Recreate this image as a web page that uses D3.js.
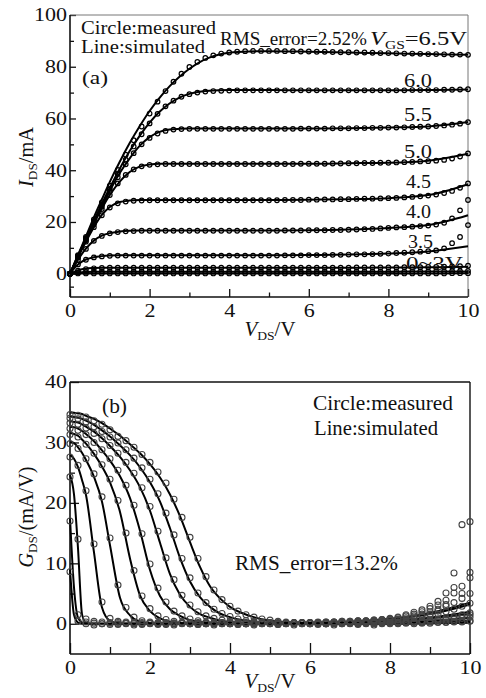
<!DOCTYPE html>
<html>
<head>
<meta charset="utf-8">
<script src="https://cdn.jsdelivr.net/npm/d3@7"></script>
<style>
html, body { margin: 0; padding: 0; background: #fff; }
svg { display: block; font-family: "Liberation Serif", "Times New Roman", serif; }
</style>
</head>
<body>
<svg id="chart" width="486" height="698"></svg>
<script>
// measured V_DS grid (V) and simulated V_DS grid (V)
const vds = [0,0.2,0.4,0.6,0.8,1,1.2,1.4,1.6,1.8,2,2.2,2.4,2.6,2.8,3,3.2,3.4,3.6,3.8,4,4.2,4.4,4.6,4.8,5,5.2,5.4,5.6,5.8,6,6.2,6.4,6.6,6.8,7,7.2,7.4,7.6,7.8,8,8.2,8.4,8.6,8.8,9,9.2,9.4,9.6,9.8,10];
const vdsSim = [0,0.1,0.2,0.3,0.4,0.6,0.8,1.0,1.25,1.5,1.75,2.0,2.25,2.5,2.75,3.0,3.25,3.5,3.75,4.0,4.5,5,6,7,8,9,10];

const xMajor = [0, 2, 4, 6, 8, 10];
const xMinor = [1, 3, 5, 7, 9];

// (a) I_DS (mA), measured
const idMeas65 = [0,7.2,14.2,21.0,27.6,34.0,40.1,46.0,51.6,56.9,61.9, 66.5,70.6,74.2,77.3,79.9,81.9,83.4,84.4,85.1,85.5, 85.8,86.0,86.1,86.1,86.1,86.1,86.0,86.0,85.9,85.9, 85.8,85.8,85.7,85.6,85.6,85.5,85.5,85.4,85.3,85.3, 85.2,85.1,85.1,85.0,84.9,84.9,84.8,84.7,84.7,84.6];
const idMeas60 = [0,6.9,13.7,20.3,26.7,32.8,38.6,44.1,49.2,53.9,58.1, 61.8,64.7,66.9,68.4,69.4,70.0,70.4,70.6,70.7,70.8, 70.9,70.9,70.9,70.9,70.9,70.9,70.9,70.9,70.9,70.9, 70.9,70.9,70.9,70.9,70.9,70.9,70.9,70.9,70.9,70.9, 70.9,70.9,71.0,71.0,71.0,71.0,71.1,71.1,71.2,71.3];
const idMeas55 = [0,6.7,13.3,19.7,25.9,31.8,37.3,42.3,46.6,50.0,52.5, 54.2,55.2,55.7,55.9,56.0,56.0,56.0,56.0,56.0,56.0, 56.0,56.0,56.0,56.0,56.0,56.0,56.0,56.0,56.1,56.1, 56.1,56.1,56.2,56.2,56.2,56.3,56.3,56.4,56.4,56.5, 56.5,56.6,56.7,56.8,56.9,57.1,57.3,57.6,58.0,58.6];
const idMeas50 = [0,6.5,12.9,19.1,25.0,30.4,34.9,38.2,40.3,41.5,42.1, 42.3,42.4,42.4,42.4,42.4,42.4,42.4,42.4,42.4,42.4, 42.4,42.4,42.4,42.4,42.4,42.4,42.4,42.4,42.5,42.5, 42.5,42.5,42.6,42.6,42.7,42.7,42.8,42.8,42.9,42.9, 43.0,43.1,43.2,43.4,43.5,43.7,44.0,44.5,45.3,46.5];
const idMeas45 = [0,6.3,12.4,18.0,22.6,25.6,27.2,27.9,28.2,28.3,28.4, 28.4,28.4,28.4,28.4,28.4,28.4,28.4,28.4,28.4,28.4, 28.4,28.4,28.4,28.4,28.4,28.4,28.5,28.5,28.5,28.6, 28.6,28.7,28.7,28.8,28.8,28.9,29.0,29.0,29.1,29.2, 29.3,29.5,29.7,29.9,30.2,30.6,31.2,32.0,33.2,34.9];
const idMeas40 = [0,5.3,9.6,12.7,14.6,15.6,16.1,16.4,16.5,16.6,16.6, 16.6,16.6,16.6,16.6,16.6,16.6,16.6,16.6,16.6,16.6, 16.6,16.6,16.6,16.6,16.6,16.6,16.7,16.7,16.7,16.8, 16.8,16.8,16.9,16.9,17.0,17.1,17.2,17.3,17.5,17.7, 17.9,18.0,18.2,18.4,18.6,19.0,19.7,21.4,24.5,28.5];
const idMeas35 = [0,3.6,5.4,6.3,6.7,6.9,7.0,7.0,7.0,7.0,7.0, 7.0,7.0,7.0,7.0,7.0,7.0,7.0,7.0,7.0,7.0, 7.0,7.0,7.0,7.0,7.0,7.0,7.1,7.1,7.1,7.2, 7.2,7.2,7.3,7.3,7.4,7.5,7.5,7.6,7.7,7.8, 8.0,8.1,8.3,8.5,8.7,9.0,9.8,11.8,14.2,18.8];
const idMeas30 = [0,1.2,1.8,2.1,2.2,2.3,2.3,2.3,2.3,2.3,2.3, 2.3,2.3,2.3,2.3,2.3,2.3,2.3,2.3,2.3,2.3, 2.3,2.3,2.3,2.3,2.3,2.3,2.3,2.3,2.3,2.3, 2.3,2.3,2.3,2.3,2.3,2.4,2.4,2.4,2.4,2.4, 2.4,2.5,2.5,2.5,2.6,2.6,2.7,2.8,2.9,3.1];
const idMeas25 = [0,0.5,0.7,0.8,0.8,0.8,0.8,0.8,0.8,0.8,0.8, 0.8,0.8,0.8,0.8,0.8,0.8,0.8,0.8,0.8,0.8, 0.8,0.8,0.8,0.8,0.8,0.8,0.8,0.8,0.8,0.8, 0.8,0.8,0.8,0.8,0.8,0.8,0.8,0.8,0.8,0.8, 0.8,0.8,0.8,0.9,0.9,0.9,0.9,1.0,1.0,1.1];
const idMeas20 = [0,0.1,0.1,0.1,0.1,0.1,0.1,0.1,0.1,0.1,0.1, 0.1,0.1,0.1,0.1,0.1,0.1,0.1,0.1,0.1,0.1, 0.1,0.1,0.1,0.1,0.1,0.1,0.1,0.1,0.1,0.1, 0.1,0.1,0.1,0.1,0.1,0.1,0.1,0.1,0.1,0.1, 0.1,0.1,0.1,0.1,0.1,0.1,0.1,0.2,0.2,0.2];

// (a) I_DS (mA), simulated
const idSim65 = [0,3.6,7.2,10.8,14.4,21.8,28.7,35.5,43.3,50.5,57.0,62.9,68.0,72.4,76.1,79.2,81.7,83.5,84.7,85.4,85.9,86.0,85.8,85.5,85.2,84.9,84.6];
const idSim60 = [0,3.5,7.0,10.4,13.8,20.5,27.0,33.2,40.6,47.4,53.3,58.4,62.6,65.8,68.1,69.5,70.3,70.7,70.9,71.0,71.0,71.0,70.9,70.9,70.9,71.0,71.2];
const idSim55 = [0,3.4,6.7,10.0,13.3,19.8,26.0,32.0,38.9,44.6,49.4,52.8,54.8,55.7,56.0,56.1,56.1,56.1,56.1,56.1,56.1,56.1,56.1,56.2,56.5,56.9,58.6];
const idSim50 = [0,3.3,6.5,9.8,13.0,19.3,25.2,30.4,35.6,39.3,41.4,42.2,42.5,42.5,42.5,42.5,42.5,42.5,42.5,42.5,42.5,42.5,42.5,42.7,42.9,43.7,46.4];
const idSim45 = [0,3.2,6.3,9.4,12.4,18.0,22.7,25.8,27.7,28.3,28.5,28.5,28.5,28.5,28.5,28.5,28.5,28.5,28.5,28.5,28.5,28.5,28.6,28.8,29.2,30.4,34.6];
const idSim40 = [0,2.8,5.4,7.7,9.7,12.8,14.7,15.7,16.3,16.6,16.7,16.7,16.7,16.7,16.7,16.7,16.7,16.7,16.7,16.7,16.7,16.7,16.8,17.1,17.7,18.8,22.6];
const idSim35 = [0,2.0,3.6,4.7,5.5,6.4,6.8,7.0,7.1,7.1,7.1,7.1,7.1,7.1,7.1,7.1,7.1,7.1,7.1,7.1,7.1,7.1,7.2,7.4,7.8,8.6,10.6];
const idSim30 = [0,0.7,1.3,1.7,2.0,2.2,2.3,2.3,2.3,2.3,2.3,2.3,2.3,2.3,2.3,2.3,2.3,2.3,2.3,2.3,2.3,2.3,2.3,2.3,2.4,2.5,2.7];
const idSim25 = [0,0.3,0.5,0.6,0.7,0.8,0.8,0.8,0.8,0.8,0.8,0.8,0.8,0.8,0.8,0.8,0.8,0.8,0.8,0.8,0.8,0.8,0.8,0.8,0.8,0.9,0.9];
const idSim20 = [0,0.05,0.1,0.1,0.1,0.1,0.1,0.1,0.1,0.1,0.1,0.1,0.1,0.1,0.1,0.1,0.1,0.1,0.1,0.1,0.1,0.1,0.1,0.1,0.1,0.1,0.2];

// (b) G_DS (mA/V), measured
const gdsMeas65 = [34.6,34.5,34.2,33.6,33.0,32.1,31.0,30.3,29.2,28.0,26.7, 25.1,23.3,20.6,17.6,14.3,10.8,7.8,5.6,4.0,2.9, 2.1,1.5,1.1,0.8,0.6,0.4,0.3,0.2,0.2,0.1, 0.1,0.0,0.1,0.0,0.1,0.0,0.1,0.0,0.1,0.1, 0.1,0.2,0.2,0.2,0.3,0.3,0.3,0.4,0.4,0.5];
const gdsMeas60 = [34.0,33.9,33.4,32.6,31.8,30.9,29.9,28.8,27.4,25.8,23.9, 21.5,18.3,14.7,10.8,7.6,5.1,3.5,2.4,1.7,1.2, 0.8,0.5,0.4,0.3,0.2,0.2,0.1,0.1,0.1,0.1, 0.0,0.1,0.0,0.1,0.1,0.0,0.1,0.1,0.1,0.2, 0.2,0.2,0.3,0.3,0.4,0.5,0.6,0.7,0.9,1.1];
const gdsMeas55 = [33.2,33.0,32.4,31.5,30.6,29.5,28.2,26.7,24.9,22.5,19.4, 15.3,10.9,7.3,4.7,3.1,2.0,1.3,0.9,0.6,0.4, 0.3,0.2,0.2,0.1,0.1,0.1,0.1,0.0,0.1,0.0, 0.1,0.0,0.1,0.1,0.0,0.1,0.1,0.2,0.2,0.2, 0.3,0.3,0.4,0.5,0.6,0.8,1.0,1.2,1.5,1.8];
const gdsMeas50 = [32.3,32.0,31.3,30.0,28.8,27.3,25.4,22.9,19.6,14.9,9.9, 5.9,3.6,2.1,1.3,0.8,0.5,0.3,0.2,0.2,0.1, 0.1,0.1,0.0,0.1,0.1,0.0,0.1,0.1,0.1,0.1, 0.1,0.1,0.2,0.2,0.2,0.3,0.3,0.4,0.4,0.5, 0.6,0.7,0.9,1.1,1.3,1.6,2.0,2.4,2.9,3.4];
const gdsMeas45 = [31.3,30.9,29.7,28.2,26.3,23.9,20.4,15.0,8.8,4.6,2.5, 1.3,0.7,0.4,0.3,0.2,0.2,0.1,0.1,0.1,0.1, 0.0,0.1,0.0,0.1,0.1,0.0,0.1,0.1,0.1,0.2, 0.2,0.2,0.3,0.3,0.3,0.4,0.4,0.5,0.6,0.7, 0.8,1.0,1.3,1.6,2.0,2.4,2.9,3.5,4.2,5.0];
const gdsMeas40 = [29.8,29.0,27.3,24.8,21.0,14.2,6.4,2.7,1.1,0.5,0.3, 0.2,0.2,0.1,0.1,0.1,0.0,0.1,0.1,0.0,0.1, 0.1,0.0,0.1,0.1,0.1,0.0,0.1,0.1,0.2,0.2, 0.2,0.3,0.3,0.4,0.4,0.5,0.5,0.6,0.7,0.8, 1.0,1.3,1.6,2.0,2.5,3.1,3.9,5.1,6.2,7.6];
const gdsMeas35 = [27.6,26.2,22.0,13.2,3.6,0.9,0.4,0.3,0.2,0.2,0.1, 0.1,0.0,0.1,0.1,0.0,0.1,0.0,0.1,0.1,0.0, 0.1,0.1,0.0,0.1,0.1,0.1,0.1,0.2,0.2,0.2, 0.3,0.3,0.3,0.4,0.4,0.5,0.5,0.6,0.7,0.9, 1.1,1.5,1.9,2.3,2.9,3.7,5.1,6.0,16.4,8.5];
const gdsMeas30 = [24.3,14.0,0.8,0.4,0.3,0.2,0.2,0.1,0.1,0.0,0.1, 0.0,0.1,0.0,0.1,0.0,0.0,0.1,0.0,0.1,0.0, 0.1,0.0,0.1,0.0,0.1,0.1,0.0,0.1,0.1,0.1, 0.2,0.2,0.2,0.3,0.3,0.3,0.4,0.4,0.5,0.6, 0.7,0.8,1.0,1.3,1.6,2.1,3.2,8.4,5.0,16.9];
const gdsMeas25 = [17.0,1.5,0.3,0.1,0.0,-0.1,0.0,0.1,0.0,-0.1,0.0, 0.0,-0.1,0.0,0.1,0.0,-0.1,0.0,0.0,0.1,0.0, -0.1,0.0,0.0,0.1,0.0,-0.1,0.0,0.1,0.0,0.0, 0.1,0.0,0.1,0.1,0.1,0.2,0.2,0.2,0.3,0.3, 0.3,0.4,0.4,0.5,0.6,0.7,0.8,1.0,1.2,1.5];
const gdsMeas20 = [8.6,0.4,0.0,-0.2,0.0,0.1,-0.1,0.0,-0.2,0.0,0.1, -0.1,0.0,-0.2,0.0,0.1,-0.1,0.0,-0.2,0.0,0.1, -0.1,0.0,-0.2,0.0,0.0,-0.1,0.1,-0.2,0.0,0.0, -0.1,0.0,-0.2,0.0,0.1,-0.1,0.0,-0.2,0.0,0.0, 0.0,0.1,0.0,0.1,0.1,0.2,0.2,0.3,0.3,0.4];

// (b) G_DS (mA/V), simulated
const gdsSim65 = [35.0,34.9,34.8,34.7,34.4,33.9,33.2,32.3,31.1,29.7,28.2,26.4,24.2,21.4,17.8,13.5,9.4,6.2,4.2,2.8,1.3,0.5,0.1,0,0,0.1,0.2];
const gdsSim60 = [34.3,34.2,34.1,33.9,33.6,32.9,32.0,31.0,29.5,27.9,25.9,23.4,20.2,15.8,10.9,7.0,4.4,2.8,1.7,1.1,0.4,0.1,0,0,0.1,0.2,0.3];
const gdsSim55 = [33.5,33.4,33.3,33.0,32.6,31.8,30.7,29.4,27.6,25.4,22.6,18.7,13.4,8.2,4.8,2.8,1.6,1.0,0.5,0.3,0.1,0,0,0.1,0.3,0.5,1.0];
const gdsSim50 = [32.6,32.5,32.3,31.9,31.4,30.2,28.7,27.0,24.4,20.8,15.4,8.9,4.6,2.4,1.3,0.6,0.3,0.15,0.1,0,0,0,0.1,0.2,0.5,0.9,1.6];
const gdsSim45 = [31.6,31.4,31.1,30.5,29.8,28.1,26.0,23.4,18.5,10.8,4.7,2.1,0.9,0.35,0.15,0.05,0,0,0,0,0,0,0.1,0.3,0.8,1.6,3.2];
const gdsSim40 = [30.1,29.9,29.2,28.3,27.1,24.3,20.2,13.0,4.3,1.4,0.35,0.1,0,0,0,0,0,0,0,0,0,0,0.1,0.3,0.8,1.8,3.5];
const gdsSim35 = [27.9,27.3,25.9,23.8,21.3,11.8,2.7,0.5,0.05,0,0,0,0,0,0,0,0,0,0,0,0,0,0.1,0.2,0.5,1.0,2.0];
const gdsSim30 = [24.6,21.4,12.5,1.6,0.15,0,0,0,0,0,0,0,0,0,0,0,0,0,0,0,0,0,0.1,0.2,0.3,0.4,0.5];
const gdsSim25 = [17.5,6.0,1.0,0.2,0,0,0,0,0,0,0,0,0,0,0,0,0,0,0,0,0,0,0,0.1,0.1,0.2,0.3];
const gdsSim20 = [9.0,1.5,0.2,0,0,0,0,0,0,0,0,0,0,0,0,0,0,0,0,0,0,0,0,0,0.1,0.1,0.2];

const svg = d3.select('#chart');

// text with italic / subscript parts; width (optional) stretches it like the wide print font
const rich = (sel, x, y, parts, size, anchor, width) => {
    const t = sel.append('text')
        .attr('x', x).attr('y', y)
        .attr('text-anchor', anchor || 'start')
        .style('font-size', size + 'px')
        .attr('fill', '#111');
    if (width) t.attr('textLength', width).attr('lengthAdjust', 'spacingAndGlyphs');
    let shift = 0;
    parts.forEach(p => {
        const ts = t.append('tspan').text(p.t);
        if (p.it) ts.style('font-style', 'italic');
        if (p.sub) {
            ts.attr('dy', 4).style('font-size', Math.round(size * 0.64) + 'px');
            shift = 4;
        } else if (shift) {
            ts.attr('dy', -shift);
            shift = 0;
        }
    });
    return t;
};

const drawPanel = p => {
    const x = d3.scaleLinear().domain([0, 10]).range([p.left, p.right]);
    const y = d3.scaleLinear().domain(p.yDomain).range([p.bottom, p.top]);
    const g = svg.append('g');

    const styleAxis = a => {
        a.select('.domain').remove();
        a.attr('font-family', null).attr('font-size', null);
        a.selectAll('line').attr('stroke', '#111').attr('stroke-width', 1.3);
        a.selectAll('text')
            .style('font-size', '18.5px')
            .attr('fill', '#111')
            .attr('textLength', function () { return this.textContent.length * 11; })
            .attr('lengthAdjust', 'spacingAndGlyphs');
    };

    g.append('g').attr('transform', `translate(0,${p.bottom})`)
        .call(d3.axisBottom(x).tickValues(xMajor).tickSize(-p.xMajorLen).tickPadding(7).tickFormat(d3.format('d')))
        .call(styleAxis);
    g.append('g').attr('transform', `translate(0,${p.bottom})`)
        .call(d3.axisBottom(x).tickValues(xMinor).tickSize(-p.xMinorLen).tickFormat(''))
        .call(styleAxis);
    g.append('g').attr('transform', `translate(${p.left},0)`)
        .call(d3.axisLeft(y).tickValues(p.yMajor).tickSize(-p.yMajorLen).tickPadding(3).tickFormat(d3.format('d')))
        .call(styleAxis);
    g.append('g').attr('transform', `translate(${p.left},0)`)
        .call(d3.axisLeft(y).tickValues(p.yMinor).tickSize(-p.yMinorLen).tickFormat(''))
        .call(styleAxis);

    // frame
    g.append('line').attr('x1', p.left).attr('x2', p.right).attr('y1', p.top).attr('y2', p.top)
        .attr('stroke', p.frameColor).attr('stroke-width', p.frameWidth);
    g.append('line').attr('x1', p.right).attr('x2', p.right).attr('y1', p.top).attr('y2', p.bottom)
        .attr('stroke', p.frameColor).attr('stroke-width', p.frameWidth);
    g.append('line').attr('x1', p.left).attr('x2', p.right).attr('y1', p.bottom).attr('y2', p.bottom)
        .attr('stroke', '#111').attr('stroke-width', 1.6);
    g.append('line').attr('x1', p.left).attr('x2', p.left).attr('y1', p.top).attr('y2', p.bottom)
        .attr('stroke', '#111').attr('stroke-width', 1.6);

    const line = d3.line()
        .x((d, i) => x(vdsSim[i]))
        .y(d => y(d))
        .curve(d3.curveMonotoneX);

    g.append('g').selectAll('path')
        .data(p.curves)
        .enter().append('path')
        .attr('d', c => line(c.sim))
        .attr('fill', 'none')
        .attr('stroke', '#000')
        .attr('stroke-width', p.lineWidth);

    const pts = p.curves.flatMap(c => c.meas.map((v, i) => [vds[i], v]));
    g.append('g').selectAll('circle')
        .data(pts)
        .enter().append('circle')
        .attr('cx', d => x(d[0]))
        .attr('cy', d => y(d[1]))
        .attr('r', p.r)
        .attr('fill', 'none')
        .attr('stroke', p.circleColor)
        .attr('stroke-width', p.circleWidth);

    return g;
};

// panel (a)
const ga = drawPanel({
    left: 70, right: 468, top: 15, bottom: 297,
    yDomain: [-9, 100],
    yMajor: [0, 20, 40, 60, 80, 100],
    yMinor: [-5, 10, 30, 50, 70, 90],
    xMajorLen: 8, xMinorLen: 4.5, yMajorLen: 6, yMinorLen: 4,
    frameColor: '#777', frameWidth: 1,
    lineWidth: 2, r: 2.3, circleColor: '#000', circleWidth: 1.2,
    curves: [
        { meas: idMeas65, sim: idSim65 },
        { meas: idMeas60, sim: idSim60 },
        { meas: idMeas55, sim: idSim55 },
        { meas: idMeas50, sim: idSim50 },
        { meas: idMeas45, sim: idSim45 },
        { meas: idMeas40, sim: idSim40 },
        { meas: idMeas35, sim: idSim35 },
        { meas: idMeas30, sim: idSim30 },
        { meas: idMeas25, sim: idSim25 },
        { meas: idMeas20, sim: idSim20 }
    ]
});

rich(ga, 81, 34, [{ t: 'Circle:measured' }], 19, 'start', 135);
rich(ga, 81, 53, [{ t: 'Line:simulated' }], 19, 'start', 124);
rich(ga, 82, 84, [{ t: '(a)' }], 19, 'start', 26);
rich(ga, 220, 45, [{ t: 'RMS_error=2.52%' }], 19, 'start', 147);
rich(ga, 370, 45, [{ t: 'V', it: true }, { t: 'GS', sub: true }, { t: '=6.5V' }], 19, 'start', 97);
rich(ga, 404, 87, [{ t: '6.0' }], 18, 'start', 28);
rich(ga, 404, 121, [{ t: '5.5' }], 18, 'start', 28);
rich(ga, 404, 158, [{ t: '5.0' }], 18, 'start', 28);
rich(ga, 406, 188, [{ t: '4.5' }], 18, 'start', 25);
rich(ga, 406, 218, [{ t: '4.0' }], 18, 'start', 25);
rich(ga, 408, 248, [{ t: '3.5' }], 18, 'start', 25);
rich(ga, 406, 270, [{ t: '0~3V' }], 18, 'start', 57);
rich(ga, 270, 336, [{ t: 'V', it: true }, { t: 'DS', sub: true }, { t: '/V' }], 20, 'middle', 51);
rich(ga.append('g').attr('transform', 'translate(33,157) rotate(-90)'), 0, 0,
    [{ t: 'I', it: true }, { t: 'DS', sub: true }, { t: '/mA' }], 20, 'middle', 60);

// panel (b)
const gb = drawPanel({
    left: 70, right: 470, top: 382, bottom: 654,
    yDomain: [-5, 40],
    yMajor: [0, 10, 20, 30, 40],
    yMinor: [5, 15, 25, 35],
    xMajorLen: 11, xMinorLen: 7, yMajorLen: 9, yMinorLen: 5,
    frameColor: '#111', frameWidth: 1.4,
    lineWidth: 2, r: 3, circleColor: '#444', circleWidth: 1.1,
    curves: [
        { meas: gdsMeas65, sim: gdsSim65 },
        { meas: gdsMeas60, sim: gdsSim60 },
        { meas: gdsMeas55, sim: gdsSim55 },
        { meas: gdsMeas50, sim: gdsSim50 },
        { meas: gdsMeas45, sim: gdsSim45 },
        { meas: gdsMeas40, sim: gdsSim40 },
        { meas: gdsMeas35, sim: gdsSim35 },
        { meas: gdsMeas30, sim: gdsSim30 },
        { meas: gdsMeas25, sim: gdsSim25 },
        { meas: gdsMeas20, sim: gdsSim20 }
    ]
});

rich(gb, 102, 413, [{ t: '(b)' }], 21, 'start', 25);
rich(gb, 313, 410, [{ t: 'Circle:measured' }], 21.5, 'start', 140);
rich(gb, 314, 435, [{ t: 'Line:simulated' }], 21.5, 'start', 124);
rich(gb, 235, 570, [{ t: 'RMS_error=13.2%' }], 21.5, 'start', 163);
rich(gb, 270, 688, [{ t: 'V', it: true }, { t: 'DS', sub: true }, { t: '/V' }], 20, 'middle', 51);
rich(gb.append('g').attr('transform', 'translate(33,517) rotate(-90)'), 0, 0,
    [{ t: 'G', it: true }, { t: 'DS', sub: true }, { t: '/(mA/V)' }], 20, 'middle', 101);
</script>
</body>
</html>
